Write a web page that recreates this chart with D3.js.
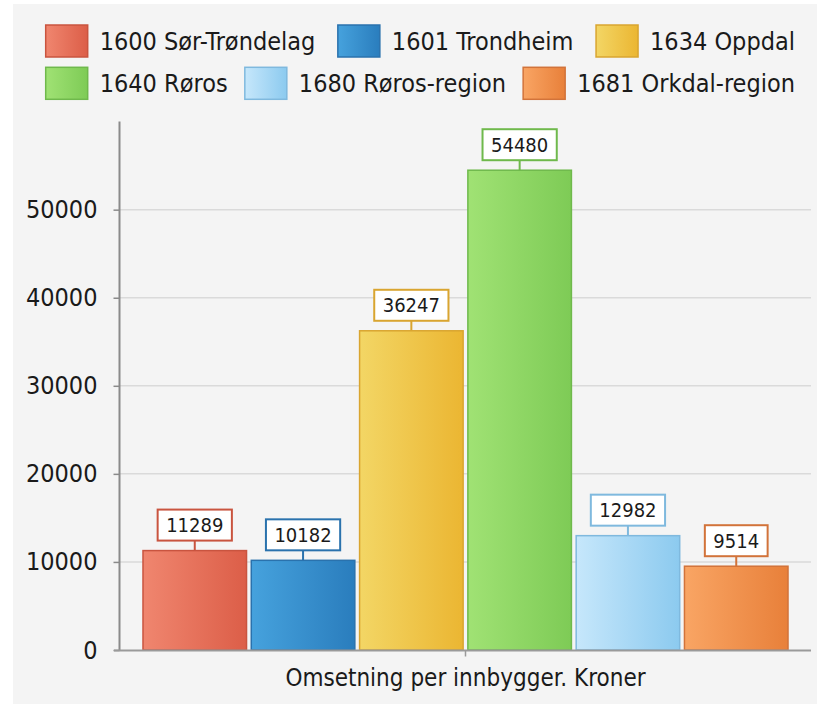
<!DOCTYPE html>
<html>
<head>
<meta charset="utf-8">
<script src="https://cdn.jsdelivr.net/npm/d3@7"></script>
<style>
  html, body { margin: 0; padding: 0; background: #ffffff; }
  svg { display: block; }
  text { font-family: "DejaVu Sans Condensed", "DejaVu Sans", sans-serif; fill: #1a1a1a; }
</style>
</head>
<body>
<div id="chart"></div>
<script>
// ---- data ----
const categories = ["1600 Sør-Trøndelag", "1601 Trondheim", "1634 Oppdal", "1640 Røros", "1680 Røros-region", "1681 Orkdal-region"];
const values = [11289, 10182, 36247, 54480, 12982, 9514];
const groupLabel = "Omsetning per innbygger. Kroner";
const yTicks = [0, 10000, 20000, 30000, 40000, 50000];
const yMax = 60000;
const colorLight = ["#f0866f", "#46a2dd", "#f3d665", "#a0e274", "#c6e7fb", "#f9a564"];
const colorDark  = ["#dc5e48", "#2a7dbd", "#ebb632", "#7ecb56", "#8ccaef", "#e8803a"];
const colorEdge  = ["#c9543f", "#2a72ad", "#d9a530", "#6fb94c", "#7fb9de", "#d2733a"];

// ---- layout ----
const W = 817, H = 704;
const plot = { left: 120, right: 811, top: 121.6, bottom: 650 };

const svg = d3.select("#chart").append("svg").attr("width", W).attr("height", H);
const defs = svg.append("defs");
categories.forEach((c, i) => {
  const g = defs.append("linearGradient").attr("id", "grad" + i)
    .attr("x1", "0%").attr("x2", "100%").attr("y1", "0%").attr("y2", "0%");
  g.append("stop").attr("offset", "0%").attr("stop-color", colorLight[i]);
  g.append("stop").attr("offset", "100%").attr("stop-color", colorDark[i]);
});

// panel background
svg.append("rect").attr("x", 13).attr("y", 4).attr("width", W - 13).attr("height", H - 4).attr("fill", "#f4f4f4");

// scales
const y = d3.scaleLinear().domain([0, yMax]).range([plot.bottom, plot.top]);
const x0 = d3.scaleBand().domain([groupLabel]).range([plot.left, plot.right]).paddingOuter(0.0344).paddingInner(0);
const x1 = d3.scaleBand().domain(categories).range([0, x0.bandwidth()]).paddingInner(0.03).paddingOuter(0);

// gridlines
svg.append("g").selectAll("line").data(yTicks.filter(t => t > 0)).join("line")
  .attr("x1", plot.left).attr("x2", plot.right)
  .attr("y1", d => y(d)).attr("y2", d => y(d))
  .attr("stroke", "#dadada").attr("stroke-width", 1.5);

// y axis
const yAxis = d3.axisLeft(y).tickValues(yTicks).tickSize(6).tickPadding(16).tickFormat(d3.format("d"));
const ya = svg.append("g").attr("transform", `translate(${plot.left - 0.5},0)`).call(yAxis);
ya.select(".domain").remove();
ya.selectAll(".tick line").attr("stroke", "#8a8a8a").attr("stroke-width", 1.5);
ya.selectAll(".tick text").style("font-size", "25px").attr("fill", "#1a1a1a")
  .style("font-family", "'DejaVu Sans Condensed','DejaVu Sans',sans-serif");
svg.append("line").attr("x1", plot.left - 0.5).attr("x2", plot.left - 0.5)
  .attr("y1", plot.top).attr("y2", plot.bottom).attr("stroke", "#8a8a8a").attr("stroke-width", 2);

// bars
const gx = x0(groupLabel);
const bars = svg.append("g").attr("transform", `translate(${gx},0)`);
bars.selectAll("rect").data(values).join("rect")
  .attr("x", (d, i) => x1(categories[i]) + 0.75)
  .attr("width", x1.bandwidth() - 1.5)
  .attr("y", d => y(d))
  .attr("height", d => y(0) - y(d))
  .attr("fill", (d, i) => `url(#grad${i})`)
  .attr("stroke", (d, i) => colorEdge[i]).attr("stroke-width", 1.5);

// x axis line
svg.append("line").attr("x1", plot.left - 6).attr("x2", plot.right)
  .attr("y1", plot.bottom + 0.5).attr("y2", plot.bottom + 0.5)
  .attr("stroke", "#9a9a9a").attr("stroke-width", 2);
const xAxis = d3.axisBottom(x0).tickSize(6).tickPadding(12);
const xa = svg.append("g").attr("transform", `translate(0,${plot.bottom + 0.5})`).call(xAxis);
xa.select(".domain").remove();
xa.selectAll(".tick line").attr("stroke", "#9a9a9a").attr("stroke-width", 1.5);
xa.selectAll(".tick text").style("font-size", "24px").attr("fill", "#1a1a1a")
  .style("font-family", "'DejaVu Sans Condensed','DejaVu Sans',sans-serif");

// value labels
const lab = bars.selectAll("g.lab").data(values).join("g").attr("class", "lab");
lab.each(function (d, i) {
  const g = d3.select(this);
  const cx = x1(categories[i]) + x1.bandwidth() / 2;
  const top = y(d);
  const boxH = 31, gap = 10;
  const t = g.append("text").text(d3.format("d")(d))
    .attr("x", cx).attr("y", top - gap - boxH / 2).attr("dy", "0.36em")
    .attr("text-anchor", "middle").style("font-size", "20px");
  const tw = t.node().getComputedTextLength();
  const bw = tw + 17;
  g.insert("rect", "text").attr("x", cx - bw / 2).attr("y", top - gap - boxH)
    .attr("width", bw).attr("height", boxH).attr("fill", "#ffffff")
    .attr("stroke", colorEdge[i]).attr("stroke-width", 2);
  g.append("line").attr("x1", cx).attr("x2", cx).attr("y1", top - gap).attr("y2", top)
    .attr("stroke", colorEdge[i]).attr("stroke-width", 2);
});

// legend (two rows, justified between fixed edges)
const legendRows = [[0, 1, 2], [3, 4, 5]];
const legLeft = 45.7, legRight = 795, swW = 42, swH = 32, swGap = 12;
const rowTop = [25, 67.3];
const leg = svg.append("g");
legendRows.forEach((row, r) => {
  const items = row.map(i => {
    const g = leg.append("g");
    const t = g.append("text").text(categories[i]).style("font-size", "25px")
      .attr("x", swW + swGap).attr("y", rowTop[r] + swH / 2).attr("dy", "0.36em");
    g.append("rect").attr("x", 0).attr("y", rowTop[r]).attr("width", swW).attr("height", swH)
      .attr("fill", `url(#grad${i})`).attr("stroke", colorEdge[i]).attr("stroke-width", 1.5);
    return { g, w: swW + swGap + t.node().getComputedTextLength() };
  });
  const total = d3.sum(items, d => d.w);
  const spacing = (legRight - legLeft - total) / (items.length - 1);
  let xPos = legLeft;
  items.forEach(it => { it.g.attr("transform", `translate(${xPos},0)`); xPos += it.w + spacing; });
});
</script>
</body>
</html>
